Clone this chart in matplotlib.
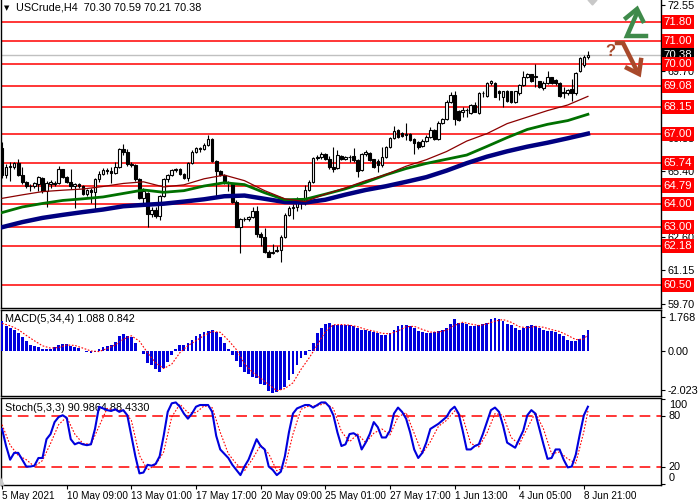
import matplotlib
matplotlib.use('Agg')
import matplotlib.pyplot as plt
import numpy as np

# ---- candles (H4 bars, index 0..145) ----
opens = [66.40, 65.24, 65.58, 65.60, 65.75, 65.25, 64.95, 64.78, 64.75, 64.85,
         65.12, 64.55, 64.85, 64.92, 64.90, 65.48, 65.15, 64.95, 64.75, 64.85,
         64.75, 64.42, 64.60, 64.50, 65.05, 65.30, 65.45, 65.40, 65.35, 65.60,
         66.35, 66.25, 65.70, 65.68, 65.05, 64.25, 64.45, 63.55, 63.75, 63.50,
         64.35, 65.05, 65.25, 65.45, 65.50, 65.30, 65.10, 65.75, 66.25, 66.40,
         66.35, 66.55, 66.80, 65.85, 65.40, 65.25, 64.95, 64.85, 64.10, 63.02,
         63.35, 63.35, 63.45, 63.70, 62.70, 62.60, 61.95, 61.90, 61.98, 62.02,
         62.59, 63.53, 63.81, 63.85, 64.17, 64.10, 64.60, 64.96, 65.96, 66.00,
         66.13, 65.95, 65.60, 65.55, 66.06, 65.95, 66.03, 66.04, 65.89, 65.45,
         66.13, 66.20, 65.93, 65.85, 65.67, 66.03, 66.46, 66.82, 67.18, 67.06,
         66.95, 67.01, 66.78, 66.68, 66.49, 66.72, 66.89, 67.18, 66.79, 67.49,
         67.64, 68.40, 68.70, 68.00, 67.97, 68.04, 67.90, 68.25, 67.90, 68.75,
         68.64, 69.21, 69.21, 68.85, 68.61, 68.87, 68.83, 68.40, 68.75, 69.11,
         69.47, 69.57, 69.47, 69.26, 68.97, 69.18, 69.44, 69.33, 69.18, 68.75,
         68.75, 68.93, 68.75, 69.69, 69.97, 70.30]
highs = [66.68, 65.70, 65.78, 65.82, 65.92, 65.60, 65.00, 64.85, 64.95, 65.20,
         65.15, 65.00, 65.02, 64.98, 65.65, 65.52, 65.20, 65.50, 64.90, 64.90,
         64.80, 64.65, 64.70, 65.10, 65.40, 65.55, 65.55, 65.60, 65.80, 66.40,
         66.58, 66.35, 65.78, 65.72, 65.10, 64.70, 64.50, 63.85, 63.85, 64.40,
         65.10, 65.30, 65.50, 65.55, 65.55, 65.35, 65.80, 66.30, 66.45, 66.45,
         66.60, 66.98, 66.85, 65.90, 65.45, 65.30, 65.00, 64.88, 64.15, 63.40,
         63.45, 63.50, 63.85, 63.90, 62.80, 62.95, 62.00, 62.30, 62.20, 62.65,
         63.60, 63.90, 64.00, 64.30, 64.25, 64.81, 65.03, 66.00, 66.10, 66.22,
         66.20, 66.05, 66.43, 66.32, 66.10, 66.08, 66.10, 66.40, 65.92, 66.18,
         66.32, 66.22, 65.95, 65.92, 66.43, 66.50, 66.88, 67.36, 67.22, 67.10,
         67.46, 67.05, 66.82, 66.72, 66.78, 66.95, 67.32, 67.22, 67.55, 67.70,
         68.45, 68.82, 68.83, 68.05, 68.18, 68.11, 68.30, 68.40, 68.80, 68.83,
         69.25, 69.33, 69.25, 68.88, 68.87, 68.90, 68.85, 68.87, 69.15, 69.71,
         69.62, 69.60, 70.00, 69.30, 69.26, 69.73, 69.47, 69.36, 69.22, 69.04,
         68.95, 69.36, 69.65, 70.30, 70.40, 70.59]
lows = [65.10, 65.10, 64.98, 65.52, 65.20, 64.85, 64.70, 64.55, 64.70, 64.55,
        64.45, 63.85, 64.70, 64.75, 64.85, 65.10, 64.90, 64.65, 63.82, 64.70,
        64.38, 64.35, 64.05, 63.70, 64.95, 65.25, 65.30, 64.90, 65.30, 65.55,
        66.10, 65.65, 65.60, 65.00, 64.20, 64.00, 63.02, 63.45, 63.40, 63.30,
        64.30, 64.95, 65.20, 65.38, 65.25, 65.05, 65.00, 65.70, 66.20, 66.25,
        66.30, 66.50, 65.80, 64.30, 65.20, 64.85, 64.55, 64.05, 63.00, 61.90,
        63.25, 63.25, 63.40, 62.60, 62.20, 61.90, 61.70, 61.85, 61.95, 61.52,
        62.55, 63.50, 63.35, 63.70, 63.80, 63.95, 64.55, 64.90, 65.90, 65.95,
        65.90, 65.50, 65.39, 65.50, 65.88, 65.90, 65.82, 65.82, 65.17, 65.40,
        66.05, 65.85, 65.55, 65.39, 65.60, 65.98, 66.40, 66.78, 66.85, 66.88,
        66.75, 66.70, 66.13, 66.38, 66.45, 66.68, 66.85, 66.75, 66.75, 67.45,
        67.60, 68.35, 67.40, 67.55, 67.72, 67.72, 67.85, 67.93, 67.85, 68.61,
        68.60, 69.11, 68.58, 68.47, 68.18, 68.40, 68.35, 68.35, 68.70, 69.05,
        69.42, 69.25, 69.04, 69.00, 68.90, 69.15, 69.15, 69.10, 68.60, 68.54,
        68.70, 68.44, 68.70, 69.65, 69.90, 70.21]
closes = [65.24, 65.58, 65.62, 65.75, 65.25, 64.95, 64.78, 64.75, 64.88, 65.15,
          64.55, 64.88, 64.95, 64.85, 65.48, 65.15, 64.95, 64.75, 64.85, 64.75,
          64.42, 64.60, 64.50, 65.05, 65.30, 65.45, 65.40, 65.35, 65.60, 66.35,
          66.25, 65.70, 65.68, 65.05, 64.25, 64.55, 63.55, 63.75, 63.50, 64.35,
          65.05, 65.25, 65.45, 65.48, 65.30, 65.10, 65.75, 66.25, 66.40, 66.35,
          66.55, 66.80, 65.85, 65.40, 65.25, 64.95, 64.90, 64.10, 63.02, 63.35,
          63.35, 63.45, 63.70, 62.70, 62.60, 61.95, 61.73, 61.95, 62.02, 62.59,
          63.53, 63.81, 63.85, 64.17, 64.10, 64.60, 64.96, 65.96, 66.03, 66.13,
          65.93, 65.57, 65.49, 66.10, 65.93, 66.03, 66.00, 65.89, 65.43, 66.13,
          66.25, 65.89, 65.60, 65.67, 66.03, 66.46, 66.82, 67.15, 66.89, 66.92,
          67.01, 66.75, 66.60, 66.43, 66.72, 66.89, 67.18, 66.79, 67.49, 67.64,
          68.40, 68.70, 67.65, 67.62, 68.04, 68.04, 68.25, 67.97, 68.75, 68.75,
          69.21, 69.26, 68.61, 68.75, 68.83, 68.44, 68.40, 68.83, 69.11, 69.47,
          69.57, 69.30, 69.47, 69.04, 69.21, 69.44, 69.21, 69.18, 68.64, 68.80,
          68.90, 68.75, 69.61, 70.26, 70.33, 70.38]

# ---- moving averages, sampled every 5 bars ----
ma_bars = [0, 5, 10, 15, 20, 25, 30, 35, 40, 45, 50, 55, 60, 65, 70, 75, 80,
           85, 90, 95, 100, 105, 110, 115, 120, 125, 130, 135, 140, 145]
ma_red = [64.24, 64.39, 64.53, 64.59, 64.64, 64.75, 64.88, 64.95, 64.73, 64.82,
          65.08, 65.24, 65.00, 64.57, 64.22, 64.10, 64.42, 64.69, 65.00, 65.26,
          65.62, 65.90, 66.25, 66.70, 67.02, 67.45, 67.73, 68.01, 68.25, 68.62]
ma_green = [63.63, 63.87, 64.02, 64.15, 64.22, 64.30, 64.45, 64.60, 64.50, 64.57,
            64.77, 64.91, 64.83, 64.48, 64.18, 64.20, 64.42, 64.65, 64.93, 65.25,
            65.52, 65.74, 65.92, 66.10, 66.47, 66.85, 67.20, 67.42, 67.58, 67.85]
ma_navy = [63.00, 63.22, 63.40, 63.53, 63.65, 63.76, 63.90, 63.96, 64.01, 64.10,
           64.20, 64.33, 64.36, 64.22, 64.08, 64.06, 64.18, 64.40, 64.60, 64.76,
           64.95, 65.15, 65.43, 65.75, 66.03, 66.26, 66.46, 66.63, 66.82, 67.02]

levels = [71.80, 71.00, 70.00, 69.08, 68.15, 67.00, 65.74, 64.79, 64.00, 63.00,
          62.18, 60.50]
price_ticks = [72.55, 69.70, 66.85, 65.40, 62.60, 61.15, 59.70]
last_price = 70.38

# ---- MACD(5,34,4) ----
macd_hist = [1.54, 1.28, 1.16, 1.10, 0.93, 0.70, 0.53, 0.32, 0.23, 0.18,
             0.10, 0.09, 0.10, 0.18, 0.32, 0.35, 0.35, 0.23, 0.19, 0.14,
             0.01, -0.07, -0.12, -0.04, 0.09, 0.19, 0.26, 0.32, 0.46, 0.75,
             0.89, 0.79, 0.70, 0.40, 0.01, -0.18, -0.61, -0.74, -0.96, -1.09,
             -0.88, -0.56, -0.21, 0.09, 0.28, 0.32, 0.40, 0.58, 0.79, 0.88,
             0.98, 1.05, 1.10, 0.98, 0.70, 0.40, 0.10, -0.21, -0.53, -0.82,
             -1.09, -1.21, -1.35, -1.40, -1.70, -1.79, -2.10, -2.18, -2.14, -2.05,
             -1.88, -1.53, -1.18, -0.74, -0.39, -0.21, 0.05, 0.40, 0.93, 1.19,
             1.40, 1.46, 1.33, 1.33, 1.33, 1.33, 1.33, 1.28, 1.16, 1.10,
             1.07, 1.02, 0.98, 0.93, 0.84, 0.84, 0.93, 1.07, 1.28, 1.33,
             1.33, 1.28, 1.16, 1.05, 0.96, 0.93, 0.93, 0.96, 1.02, 1.10,
             1.19, 1.37, 1.63, 1.46, 1.46, 1.37, 1.28, 1.28, 1.33, 1.37,
             1.46, 1.63, 1.68, 1.63, 1.54, 1.40, 1.33, 1.19, 1.10, 1.19,
             1.28, 1.33, 1.28, 1.19, 1.10, 1.05, 1.05, 0.98, 0.88, 0.75,
             0.58, 0.49, 0.49, 0.63, 0.84, 1.09]
sig_bars = list(range(0, 146, 2)) + [145]
macd_signal = [1.42, 1.30, 1.10, 0.80, 0.52, 0.26, 0.14, 0.17, 0.30, 0.28,
               0.14, -0.01, -0.04, 0.12, 0.30, 0.60, 0.78, 0.50, -0.10, -0.62,
               -0.92, -0.69, -0.10, 0.27, 0.52, 0.80, 1.00, 0.96, 0.55, 0.06,
               -0.66, -1.12, -1.42, -1.75, -2.07, -1.96, -1.66, -0.96, -0.37, 0.29,
               1.00, 1.35, 1.36, 1.33, 1.25, 1.11, 1.02, 0.91, 0.88, 1.03,
               1.25, 1.27, 1.11, 0.97, 0.97, 1.07, 1.32, 1.48, 1.39, 1.31,
               1.39, 1.54, 1.62, 1.48, 1.25, 1.19, 1.27, 1.22, 1.10, 1.00,
               0.80, 0.58, 0.61, 0.84]

# ---- Stochastic(5,3,3) ----
stoch_main = [65, 45, 29, 37, 37, 29, 21, 21, 22, 31, 31, 53, 59, 73, 79, 81, 78,
              53, 47, 49, 47, 46, 47, 65, 91, 89, 87, 86, 88, 85, 87, 81, 57, 33,
              13, 14, 23, 22, 24, 33, 57, 85, 95, 96, 91, 83, 77, 83, 91, 93, 93,
              93, 85, 57, 41, 36, 31, 23, 17, 11, 21, 29, 41, 53, 45, 41, 21, 17,
              11, 15, 33, 61, 83, 89, 91, 93, 93, 90, 93, 96, 96, 91, 81, 61, 45,
              47, 59, 60, 57, 41, 49, 59, 73, 67, 55, 55, 63, 83, 90, 85, 77, 61,
              41, 31, 37, 49, 65, 68, 71, 75, 79, 87, 91, 83, 63, 41, 41, 45, 47,
              59, 73, 87, 90, 85, 69, 49, 46, 43, 53, 63, 81, 87, 83, 65, 47, 30,
              31, 41, 41, 29, 20, 21, 35, 59, 81, 91]
stoch_signal = [70, 46, 34, 29, 21, 28, 48, 70, 79, 59, 48, 47, 68, 89, 87, 87,
                75, 34, 17, 23, 38, 79, 94, 84, 84, 92, 90, 61, 36, 24, 16, 30,
                46, 36, 16, 20, 59, 88, 92, 92, 95, 89, 62, 50, 59, 49, 60, 65,
                58, 79, 84, 60, 36, 50, 68, 75, 86, 79, 48, 44, 60, 83, 81, 55,
                47, 66, 84, 65, 36, 38, 30, 25, 62, 86]

date_bars = [0, 16, 32, 48, 64, 80, 96, 112, 128, 144]
date_labels = ['5 May 2021', '10 May 09:00', '13 May 01:00', '17 May 17:00',
               '20 May 09:00', '25 May 01:00', '27 May 17:00', '1 Jun 13:00',
               '4 Jun 05:00', '8 Jun 21:00']

plt.rcParams['font.family'] = ['Liberation Sans', 'DejaVu Sans']
fs = 7.8
fig = plt.figure(figsize=(7, 5), dpi=100)
W, H = 700.0, 500.0
axw = 660 / W


def panel(top, bottom):
    return fig.add_axes([0.0015, 1 - bottom / H, axw, (bottom - top) / H])


ax = panel(0, 308)
axm = panel(310, 396)
axs = panel(398, 485)
xlim = (-0.25, 163.1)
bars = np.arange(len(closes))

# ---- price panel ----
o = np.array(opens); c = np.array(closes)
ax.vlines(bars, lows, highs, color='black', lw=0.8, zorder=3)
up = c >= o
bot = np.minimum(o, c)
hgt = np.maximum(np.abs(c - o), 0.015)
ax.bar(bars[up], hgt[up], bottom=bot[up], width=0.65, facecolor='white',
       edgecolor='black', lw=0.8, zorder=4)
ax.bar(bars[~up], hgt[~up], bottom=bot[~up], width=0.65, facecolor='black',
       edgecolor='black', lw=0.8, zorder=4)
for lv in levels:
    ax.axhline(lv, color='#ff0000', lw=1.1, zorder=2)
ax.axhline(last_price, color='#c0c0c0', lw=1, zorder=1)
ax.plot(ma_bars, ma_navy, color='#000080', lw=3.2, zorder=5)
ax.plot(ma_bars, ma_green, color='#007000', lw=2, zorder=5)
ax.plot(ma_bars, ma_red, color='#8b0000', lw=0.9, zorder=5)
ax.set_xlim(*xlim)
ax.set_ylim(59.53, 72.76)
ax.yaxis.tick_right()
ax.set_yticks(price_ticks)
ax.set_yticklabels(['%.2f' % v for v in price_ticks])
ax.tick_params(axis='y', length=3, pad=2, labelsize=fs, direction='out')
ax.set_xticks([])
ax.spines['top'].set_visible(False)
ax.text(1.004, last_price, '%.2f' % last_price, transform=ax.get_yaxis_transform(),
        va='center', ha='left', color='white', fontsize=fs + 0.4, zorder=9,
        bbox=dict(boxstyle='square,pad=0.18', fc='black', ec='none'))
for lv in levels:
    ax.text(1.004, lv, '%.2f' % lv, transform=ax.get_yaxis_transform(),
            va='center', ha='left', color='white', fontsize=fs + 0.4, zorder=10,
            bbox=dict(boxstyle='square,pad=0.18', fc='#ff0000', ec='none'))

# ---- MACD panel ----
axm.bar(bars, macd_hist, width=0.7, color='#0000dd', zorder=3)
axm.plot(sig_bars, macd_signal, color='#ff0000', lw=0.8, ls=(0, (1.5, 1.5)), zorder=4)
axm.set_xlim(*xlim)
axm.set_ylim(-2.344, 2.116)
axm.yaxis.tick_right()
axm.set_yticks([1.768, 0.0, -2.023])
axm.set_yticklabels(['1.768', '0.00', '-2.023'])
axm.tick_params(axis='y', length=3, pad=2, labelsize=fs)
axm.set_xticks([])
axm.text(0.006, 0.90, 'MACD(5,34,4) 1.088 0.842', transform=axm.transAxes,
         fontsize=fs, va='center', ha='left', zorder=2)

# ---- Stochastic panel ----
axs.axhline(80, color='#ff0000', lw=1.1, ls=(0, (7, 4)), zorder=2)
axs.axhline(20, color='#ff0000', lw=1.1, ls=(0, (7, 4)), zorder=2)
axs.plot(sig_bars, stoch_signal, color='#ff0000', lw=0.8, ls=(0, (1.5, 1.5)), zorder=3)
axs.plot(bars, stoch_main, color='#0000dd', lw=1.5, zorder=4)
axs.set_xlim(*xlim)
axs.set_ylim(-0.6, 101.2)
axs.yaxis.tick_right()
axs.set_yticks([100, 80, 20, 0])
axs.set_yticklabels([])
axs.tick_params(axis='y', length=3)
for val, pos in [('100', 93), ('80', 80), ('20', 20), ('0', 8)]:
    axs.text(1.012, pos, val, transform=axs.get_yaxis_transform(), fontsize=fs,
             va='center', ha='left')
axs.text(0.006, 0.88, 'Stoch(5,3,3) 90.9864 88.4330', transform=axs.transAxes,
         fontsize=fs, va='center', ha='left', zorder=1)
axs.set_xticks(date_bars)
axs.set_xticklabels(date_labels, fontsize=7.2, ha='left')
axs.tick_params(axis='x', length=3, pad=1.5)

for a in (ax, axm, axs):
    for s in a.spines.values():
        s.set_linewidth(1.0)

# ---- overlay: title and signal arrows ----
ov = fig.add_axes([0, 0, 1, 1], zorder=20)
ov.set_xlim(0, W); ov.set_ylim(H, 0); ov.axis('off')
ov.patch.set_alpha(0)
ov.text(4, 8, '\u25bc', fontsize=5, va='center', ha='left', family='DejaVu Sans')
ov.text(16, 8, 'USCrude,H4  70.30 70.59 70.21 70.38', fontsize=fs,
        va='center', ha='left')
ov.fill([588, 597, 592.5], [0, 0, 5], color='#c8c8c8')
ov.fill([0, 4, 0], [477, 485, 485], color='#c8c8c8')
green = '#3f8a4a'
ov.plot([646, 627, 637], [36, 36, 13], color=green, lw=3.2, solid_joinstyle='miter')
ov.plot([626, 637, 643], [18, 9, 21], color=green, lw=3.2, solid_joinstyle='miter')
brown = '#a8492b'
ov.plot([617, 623, 636], [43, 43, 69], color=brown, lw=3.2, solid_joinstyle='miter')
ov.plot([627, 639, 641], [68, 74, 60], color=brown, lw=3.2, solid_joinstyle='miter')
ov.text(610, 51, '?', fontsize=12, fontweight='bold', color=brown,
        va='center', ha='center')

fig.savefig('out.png', dpi=100)
